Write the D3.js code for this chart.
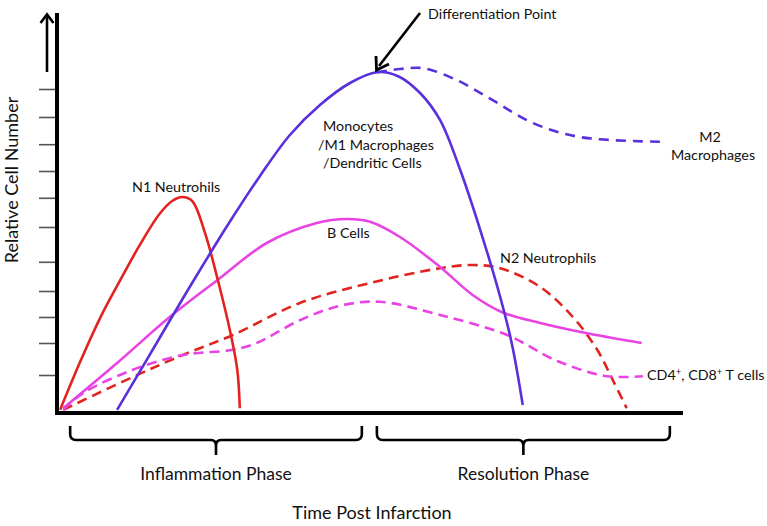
<!DOCTYPE html>
<html>
<head>
<meta charset="utf-8">
<script src="https://cdn.jsdelivr.net/npm/d3@7"></script>
<style>
  html, body { margin: 0; padding: 0; background: #fff; }
  svg { display: block; }
  text { font-family: Lato, "Open Sans", sans-serif; fill: #111; }
</style>
</head>
<body>
<svg id="chart" width="767" height="526"></svg>
<script>
// ---- Data (time post infarction, relative cell number; both 0..100) ----
const n1Neutrophils = [[0.5,0.8],[3.7,12.8],[6.9,23.8],[10.1,33.2],[13.3,42.2],[16.4,49.8],[18.4,53],[20.0,54],[21.6,53],[23.6,45.2],[25.7,33.2],[27.6,20.8],[28.8,10.8],[29.2,1.2]];
const monocytesM1 = [[9.6,0.8],[14.9,14.8],[21.2,31.5],[27.6,47.8],[32.4,59.2],[37.2,69.5],[42.0,77],[46.8,82.5],[51.1,85.2],[54.5,84.2],[58.0,80],[61.2,73.2],[64.4,60.8],[67.6,45.8],[70.8,29],[72.7,17],[74.4,2]];
const m2Macrophages = [[51.1,85.2],[54.8,86],[58.5,86.2],[63.9,83.2],[69.6,78.2],[76.0,72.5],[83.5,69],[96.8,67.8]];
const bCells = [[1.0,1.2],[9.6,12.5],[18.0,24],[25.6,33.2],[33.5,42.5],[41.5,47.5],[46.3,48.5],[50,47.8],[54.8,44],[61.2,36.5],[66.4,29.5],[71.1,25.2],[77.2,22.5],[85.1,19.8],[93.4,17.5]];
const n2Neutrophils = [[1.0,0.8],[12.1,9],[20.1,14.5],[28.1,19.5],[38.8,27.5],[50,32.5],[61.2,36.2],[66.4,37],[70.8,36.2],[77.2,31.5],[82.4,24],[86.3,15.8],[88.8,8.2],[91.0,1.2]];
const tCells = [[1.0,0.8],[4.2,5],[12.1,10.8],[20.1,14.5],[28.1,15.8],[31.9,17.5],[38.8,23.2],[45.2,26.8],[51.6,27.8],[61.2,24.5],[71.9,19.5],[79.9,13],[87.9,9.2],[93.6,9.2]];
const yTickValues = [81, 74, 67.2, 60.5, 53.8, 46.5, 37.8, 30.5, 24, 17.5, 9.5];
const phaseNames = ["Inflammation Phase", "Resolution Phase"];
const phaseStarts = [2.1, 51.1];
const phaseEnds = [48.7, 97.9];

// ---- Layout ----
const svg = d3.select("#chart");
const x = d3.scaleLinear().domain([0, 100]).range([57, 683]);
const y = d3.scaleLinear().domain([0, 100]).range([413, 13]);

const RED = "#e2231f", BLUE = "#5a2fdc", MAG = "#e844e4";
const line = d3.line().x(d => x(d[0])).y(d => y(d[1])).curve(d3.curveCatmullRom.alpha(0.5));

const series = [
  {data: n2Neutrophils, color: RED, dash: "10,6"},
  {data: tCells, color: MAG, dash: "10,6"},
  {data: bCells, color: MAG, dash: null},
  {data: n1Neutrophils, color: RED, dash: null},
  {data: m2Macrophages, color: BLUE, dash: "10,7"},
  {data: monocytesM1, color: BLUE, dash: null}
];
svg.append("g").selectAll("path").data(series).join("path")
  .attr("d", d => line(d.data))
  .attr("fill", "none")
  .attr("stroke", d => d.color)
  .attr("stroke-width", 2.6)
  .attr("stroke-dasharray", d => d.dash);

// ---- Y ticks ----
const yAxis = d3.axisLeft(y).tickValues(yTickValues).tickSize(18).tickFormat("");
const gy = svg.append("g").attr("transform", "translate(57,0)").call(yAxis);
gy.select(".domain").remove();
gy.selectAll(".tick line").attr("stroke", "#555").attr("stroke-width", 1.6);

// ---- Axes lines ----
svg.append("line").attr("x1", 57).attr("x2", 57).attr("y1", 13).attr("y2", 415)
  .attr("stroke", "#000").attr("stroke-width", 4);
svg.append("line").attr("x1", 55).attr("x2", 683).attr("y1", 413).attr("y2", 413)
  .attr("stroke", "#000").attr("stroke-width", 4);

// ---- Up arrow ----
svg.append("line").attr("x1", 47).attr("x2", 47).attr("y1", 72).attr("y2", 15)
  .attr("stroke", "#000").attr("stroke-width", 2.6);
svg.append("path").attr("d", "M40.5,23 L47,14.5 L53.5,23").attr("fill", "none")
  .attr("stroke", "#000").attr("stroke-width", 2.6);

// ---- Brackets ----
function bracket(x1, x2) {
  const c = (x1 + x2) / 2, top = 426, mid = 440, tip = 455;
  return `M${x1},${top} V${mid-6} Q${x1},${mid} ${x1+6},${mid} H${c-5} Q${c},${mid} ${c},${mid+6} V${tip}` +
         ` M${c},${mid+6} Q${c},${mid} ${c+5},${mid} H${x2-6} Q${x2},${mid} ${x2},${mid-6} V${top}`;
}
phaseNames.forEach((name, i) => {
  const x1 = x(phaseStarts[i]), x2 = x(phaseEnds[i]);
  svg.append("path").attr("d", bracket(x1, x2)).attr("fill", "none")
    .attr("stroke", "#000").attr("stroke-width", 2.6);
  svg.append("text").attr("x", (x1 + x2) / 2).attr("y", 480).attr("text-anchor", "middle")
    .attr("font-size", 17.5).text(name);
});

// ---- Axis titles ----
svg.append("text").attr("x", 372).attr("y", 519).attr("text-anchor", "middle")
  .attr("font-size", 18).text("Time Post Infarction");
svg.append("text").attr("transform", "translate(18,180) rotate(-90)").attr("text-anchor", "middle")
  .attr("font-size", 18).text("Relative Cell Number");

// ---- Annotations ----
const fs = 14.3;
function label(tx, ty, str, anchor) {
  return svg.append("text").attr("x", tx).attr("y", ty).attr("font-size", fs)
    .attr("text-anchor", anchor || "start").text(str);
}
label(428, 19, "Differentiation Point");
label(323, 131, "Monocytes");
label(318, 150, "/M1 Macrophages");
label(323, 168, "/Dendritic Cells");
label(710, 142, "M2", "middle");
label(713, 160, "Macrophages", "middle");
label(132, 192, "N1 Neutrohils");
label(327, 238, "B Cells");
label(500, 263, "N2 Neutrophils");
const t = svg.append("text").attr("x", 647).attr("y", 380).attr("font-size", fs);
t.append("tspan").text("CD4");
t.append("tspan").attr("dy", -5).attr("font-size", 9.5).text("+");
t.append("tspan").attr("dy", 5).text(", CD8");
t.append("tspan").attr("dy", -5).attr("font-size", 9.5).text("+");
t.append("tspan").attr("dy", 5).text(" T cells");

// ---- Differentiation arrow ----
svg.append("line").attr("x1", 420).attr("y1", 13).attr("x2", 379).attr("y2", 66)
  .attr("stroke", "#000").attr("stroke-width", 2.6);
svg.append("path").attr("d", "M376,56 L376.5,70 L389,64").attr("fill", "none")
  .attr("stroke", "#000").attr("stroke-width", 2.8).attr("stroke-linejoin", "miter");
</script>
</body>
</html>
